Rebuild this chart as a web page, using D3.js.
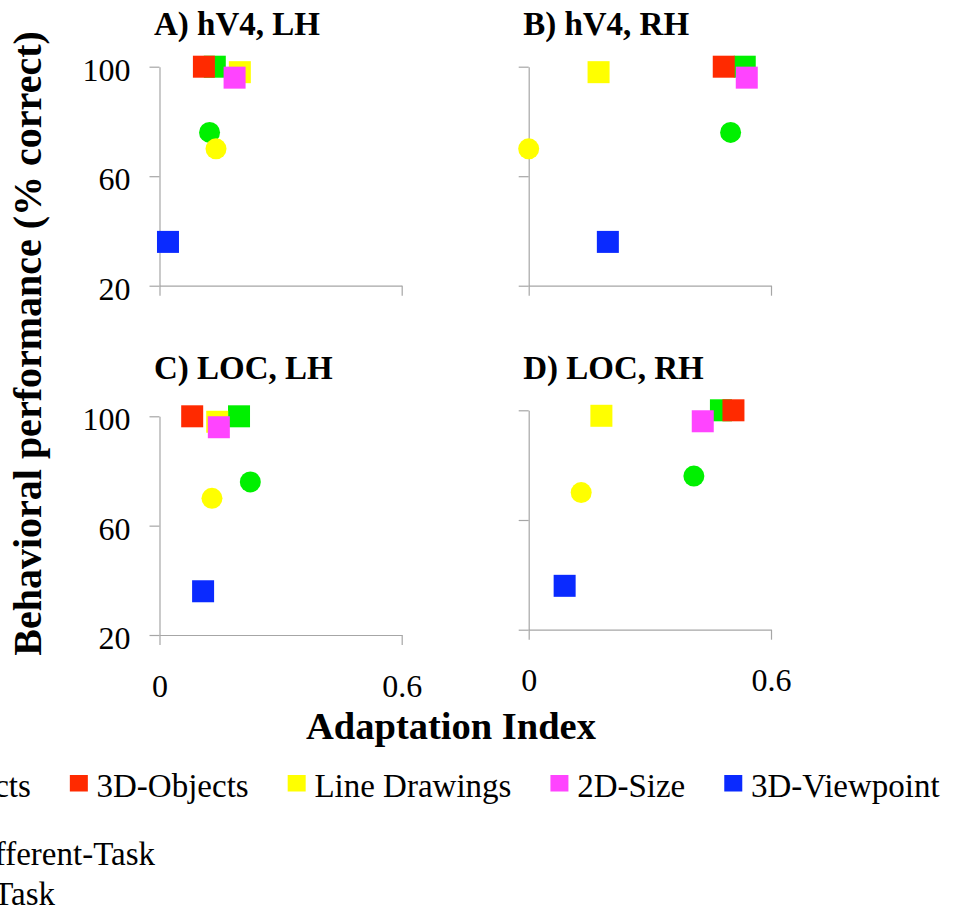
<!DOCTYPE html>
<html>
<head>
<meta charset="utf-8">
<script src="https://cdn.jsdelivr.net/npm/d3@7"></script>
<style>
  body { margin: 0; background: #fff; }
  svg { display: block; }
  text { font-family: "Liberation Serif", "Times New Roman", serif; fill: #000; }
</style>
</head>
<body>
<div id="chart"></div>
<script>
// categories and colours (legend order = draw order)
const categories = ["2D-Objects", "3D-Objects", "Line Drawings", "2D-Size", "3D-Viewpoint"];
const colors = ["#00f000", "#ff2a00", "#ffff00", "#ff44ff", "#0a2aff"];

// behavioral performance (% correct), same in every panel
const perfDiffTask = [100, 100, 98, 96, 36];
const perfSameTask = [76, null, 70, null, null];

// adaptation index per panel (A, B, C, D)
const panelTitles = ["A) hV4, LH", "B) hV4, RH", "C) LOC, LH", "D) LOC, RH"];
const adaptDiffTask = [
  [0.137, 0.110, 0.199, 0.186, 0.021],
  [0.535, 0.483, 0.173, 0.540, 0.196],
  [0.197, 0.081, 0.143, 0.147, 0.108],
  [0.476, 0.507, 0.180, 0.431, 0.089]
];
const adaptSameTask = [
  [0.124, null, 0.140, null, null],
  [0.500, null, 0.000, null, null],
  [0.225, null, 0.130, null, null],
  [0.409, null, 0.130, null, null]
];

const xTicks = [0, 0.6];
const yTicks = [20, 60, 100];
const taskLabels = ["Different-Task", "Same-Task"];

// panel boxes in page pixels
const layout = [
  {left: 159.5, right: 401.7, top: 66.7, bottom: 285.7, titleY: 35, yLab: true, xLab: false},
  {left: 528.7, right: 771, top: 66.7, bottom: 285.7, titleY: 35, yLab: false, xLab: false},
  {left: 159.5, right: 401.7, top: 416.3, bottom: 635, titleY: 378.5, yLab: true, xLab: true},
  {left: 528.7, right: 771, top: 410.3, bottom: 629.7, titleY: 379, yLab: false, xLab: true}
];

const W = 954, H = 915;
const sq = 22, r = 10.5;
const axisColor = "#a6a6a6";

const svg = d3.select("#chart").append("svg")
  .attr("width", W)
  .attr("height", H);

layout.forEach(function (p, k) {
  const x = d3.scaleLinear().domain([0, 0.6]).range([p.left, p.right]);
  const y = d3.scaleLinear().domain([20, 100]).range([p.bottom, p.top]);
  const g = svg.append("g");

  // title
  g.append("text")
    .attr("x", p.left - 5.5)
    .attr("y", p.titleY)
    .style("font-size", "33px")
    .style("font-weight", "bold")
    .text(panelTitles[k]);

  // y axis
  const ya = g.append("g")
    .attr("transform", "translate(" + p.left + ",0)")
    .call(d3.axisLeft(y).tickValues(yTicks).tickSize(10).tickSizeOuter(0).tickPadding(19));
  // x axis
  const xa = g.append("g")
    .attr("transform", "translate(0," + p.bottom + ")")
    .call(d3.axisBottom(x).tickValues(xTicks).tickFormat(d3.format("")).tickSize(10).tickSizeOuter(0).tickPadding(29));

  [ya, xa].forEach(function (a) {
    a.attr("font-family", null).attr("font-size", null);
    a.selectAll("path, line").attr("stroke", axisColor).attr("stroke-width", 1.2);
    a.selectAll("text").style("font-size", "32px").attr("fill", "#000");
  });
  ya.selectAll("text").attr("dy", "0.42em");
  if (!p.yLab) ya.selectAll("text").remove();
  if (!p.xLab) xa.selectAll("text").remove();

  // different-task: squares
  g.selectAll("rect.diff")
    .data(categories)
    .enter()
    .append("rect")
    .attr("class", "diff")
    .attr("x", function (d, i) { return x(adaptDiffTask[k][i]) - sq / 2; })
    .attr("y", function (d, i) { return y(perfDiffTask[i]) - sq / 2; })
    .attr("width", sq)
    .attr("height", sq)
    .attr("fill", function (d, i) { return colors[i]; });

  // same-task: circles
  const same = categories.map(function (c, i) { return i; })
    .filter(function (i) { return perfSameTask[i] !== null && adaptSameTask[k][i] !== null; });
  g.selectAll("circle.same")
    .data(same)
    .enter()
    .append("circle")
    .attr("class", "same")
    .attr("cx", function (i) { return x(adaptSameTask[k][i]); })
    .attr("cy", function (i) { return y(perfSameTask[i]); })
    .attr("r", r)
    .attr("fill", function (i) { return colors[i]; });
});

// axis titles
svg.append("text")
  .attr("transform", "translate(41,343.5) rotate(-90)")
  .attr("text-anchor", "middle")
  .style("font-size", "40px")
  .style("font-weight", "bold")
  .text("Behavioral performance (% correct)");

svg.append("text")
  .attr("x", 451)
  .attr("y", 738.5)
  .attr("text-anchor", "middle")
  .style("font-size", "38.5px")
  .style("font-weight", "bold")
  .text("Adaptation Index");

// legend, row of categories (starts off the left edge as in the source)
const legend = svg.append("g").attr("transform", "translate(0,797)");
let lx = -148;
categories.forEach(function (c, i) {
  legend.append("rect")
    .attr("x", lx)
    .attr("y", -22)
    .attr("width", 18)
    .attr("height", 16.5)
    .attr("fill", colors[i]);
  const t = legend.append("text")
    .attr("x", lx + 26.7)
    .attr("y", 0)
    .style("font-size", "33px")
    .text(c);
  lx += 26.7 + t.node().getComputedTextLength() + 39;
});

// task legend lines (cut by the left edge)
svg.selectAll("text.task")
  .data(taskLabels)
  .enter()
  .append("text")
  .attr("class", "task")
  .attr("x", function (d, i) { return i === 0 ? 155 : 55; })
  .attr("y", function (d, i) { return 865 + i * 40; })
  .attr("text-anchor", "end")
  .style("font-size", "33px")
  .text(function (d) { return d; });
</script>
</body>
</html>
